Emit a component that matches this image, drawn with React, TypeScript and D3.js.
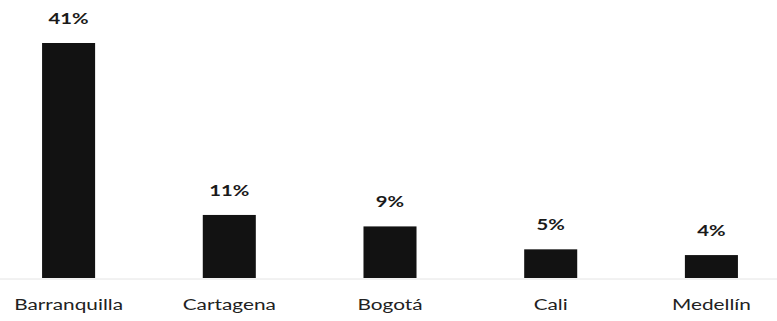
import React, { useEffect, useRef } from 'react'
import * as d3 from 'd3'

const cities = ['Barranquilla', 'Cartagena', 'Bogotá', 'Cali', 'Medellín']
const shares = [41, 11, 9, 5, 4]

const width = 777
const height = 321

export default function App() {
    const svgRef = useRef<SVGSVGElement>(null)

    useEffect(() => {
        if (!svgRef.current) return
        const svg = d3.select(svgRef.current)
        svg.selectAll("*").remove()

        const x = d3.scaleBand<string>()
            .domain(cities)
            .range([26, 754])
            .paddingInner(0.67)
            .paddingOuter(0.1)

        const y = d3.scaleLinear()
            .domain([0, 41])
            .range([278, 43])

        // faint baseline
        svg.append("line")
            .attr("x1", 0).attr("x2", width)
            .attr("y1", 279).attr("y2", 279)
            .style("stroke", "#e4e4e4")
            .style("stroke-width", 1)

        const data = cities.map((c, i) => ({ city: c, v: shares[i] }))

        svg.selectAll("rect.bar")
            .data(data)
            .enter().append("rect")
            .attr("class", "bar")
            .attr("x", d => x(d.city)!)
            .attr("width", x.bandwidth())
            .attr("y", d => y(d.v))
            .attr("height", d => y(0) - y(d.v))
            .style("fill", "#121212")

        // value labels (text in the picture looks stretched sideways)
        svg.selectAll("text.val")
            .data(data)
            .enter().append("text")
            .attr("class", "val")
            .attr("transform", d => `translate(${x(d.city)! + x.bandwidth() / 2},${y(d.v) - 19}) scale(1.35,1)`)
            .attr("text-anchor", "middle")
            .style("font-family", "Lato, 'Open Sans', sans-serif")
            .style("font-weight", "bold")
            .style("font-size", "15px")
            .style("fill", "#1a1a1a")
            .text(d => `${d.v}%`)

        svg.selectAll("text.cat")
            .data(data)
            .enter().append("text")
            .attr("class", "cat")
            .attr("transform", d => `translate(${x(d.city)! + x.bandwidth() / 2},310) scale(1.3,1)`)
            .attr("text-anchor", "middle")
            .style("font-family", "Lato, 'Open Sans', sans-serif")
            .style("font-size", "16px")
            .style("fill", "#222")
            .text(d => d.city)
    }, [])

    return (
        <svg ref={svgRef} width={width} height={height}
            style={{ position: 'absolute', left: 0, top: 0, background: '#fff' }} />
    )
}
